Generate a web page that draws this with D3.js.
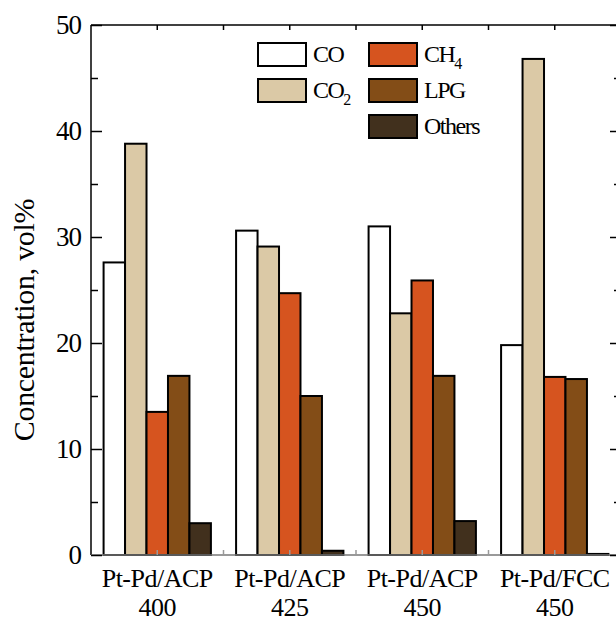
<!DOCTYPE html>
<html>
<head>
<meta charset="utf-8">
<script src="https://cdn.jsdelivr.net/npm/d3@7"></script>
<style>
  body { margin: 0; background: #fff; }
  text { font-family: "Liberation Serif", "Times New Roman", serif; fill: #000; }
</style>
</head>
<body>
<script>
// groups along the x axis (two label lines each)
const groups = ["Pt-Pd/ACP|400", "Pt-Pd/ACP|425", "Pt-Pd/ACP|450", "Pt-Pd/FCC|450"];
const series = ["CO", "CO2", "CH4", "LPG", "Others"];
const colors = ["#ffffff", "#dbc9a6", "#d6541f", "#834d17", "#41301d"];

// vol% per series, one value per group
const CO     = [27.6, 30.6, 31.0, 19.8];
const CO2    = [38.8, 29.1, 22.8, 46.8];
const CH4    = [13.5, 24.7, 25.9, 16.8];
const LPG    = [16.9, 15.0, 16.9, 16.6];
const Others = [3.0, 0.4, 3.2, 0.1];
const yTicks = [0, 10, 20, 30, 40, 50];

const values = [CO, CO2, CH4, LPG, Others];

const width = 616, height = 621;
const pLeft = 91, pRight = 621, pTop = 25, pBottom = 555;

const svg = d3.select("body").append("svg")
  .attr("width", width)
  .attr("height", height);

svg.append("rect").attr("width", width).attr("height", height).attr("fill", "#fff");

const x0 = d3.scaleBand()
  .domain(groups)
  .range([pLeft, pRight])
  .paddingInner(0.19)
  .paddingOuter(0.095);

const x1 = d3.scaleBand()
  .domain(series)
  .range([0, x0.bandwidth()]);

const y = d3.scaleLinear()
  .domain([0, 50])
  .range([pBottom, pTop]);

// bars
groups.forEach((g, gi) => {
  svg.append("g")
    .selectAll("rect")
    .data(series)
    .enter().append("rect")
    .attr("x", s => x0(g) + x1(s))
    .attr("y", (s, si) => y(values[si][gi]))
    .attr("width", x1.bandwidth())
    .attr("height", (s, si) => y(0) - y(values[si][gi]))
    .attr("fill", (s, si) => colors[si])
    .attr("stroke", "#000")
    .attr("stroke-width", 2);
});

// frame
svg.append("line").attr("x1", pLeft).attr("x2", pLeft).attr("y1", pTop).attr("y2", pBottom)
  .attr("stroke", "#000").attr("stroke-width", 1.5);
svg.append("line").attr("x1", pRight).attr("x2", pRight).attr("y1", pTop).attr("y2", pBottom)
  .attr("stroke", "#000").attr("stroke-width", 1.5);
svg.append("line").attr("x1", pLeft).attr("x2", pRight).attr("y1", pTop).attr("y2", pTop)
  .attr("stroke", "#000").attr("stroke-width", 1.5);
svg.append("line").attr("x1", pLeft).attr("x2", pRight).attr("y1", pBottom).attr("y2", pBottom)
  .attr("stroke", "#777").attr("stroke-width", 1.5);

// y axis: inward ticks on left and right
svg.append("g")
  .attr("transform", "translate(" + pLeft + ",0)")
  .call(d3.axisRight(y).tickValues(yTicks).tickSize(11).tickFormat(""));
svg.append("g")
  .attr("transform", "translate(" + pRight + ",0)")
  .call(d3.axisLeft(y).tickValues(yTicks).tickSize(11).tickFormat(""));
const minor = d3.range(5, 50, 10);
svg.append("g")
  .attr("transform", "translate(" + pLeft + ",0)")
  .call(d3.axisRight(y).tickValues(minor).tickSize(7).tickFormat(""));
svg.append("g")
  .attr("transform", "translate(" + pRight + ",0)")
  .call(d3.axisLeft(y).tickValues(minor).tickSize(7).tickFormat(""));
svg.selectAll(".domain").remove();
svg.selectAll(".tick line").attr("stroke", "#000").attr("stroke-width", 1.5);

// y tick labels
svg.append("g")
  .selectAll("text")
  .data(yTicks)
  .enter().append("text")
  .attr("x", pLeft - 10)
  .attr("y", d => y(d) + 9)
  .attr("text-anchor", "end")
  .style("font-size", "27px")
  .style("letter-spacing", "-1px")
  .text(d => d);

// x ticks at group centres and between groups
const xTickPos = [];
groups.forEach((g, i) => {
  const c = x0(g) + x0.bandwidth() / 2;
  xTickPos.push(c);
  if (i < groups.length - 1) xTickPos.push(c + x0.step() / 2);
});
svg.append("g").selectAll("line").data(xTickPos).enter().append("line")
  .attr("x1", d => d).attr("x2", d => d).attr("y1", pTop).attr("y2", pTop + 5)
  .attr("stroke", "#000").attr("stroke-width", 1.5);
svg.append("g").selectAll("line").data(xTickPos).enter().append("line")
  .attr("x1", d => d).attr("x2", d => d).attr("y1", pBottom).attr("y2", pBottom - 5)
  .attr("stroke", "#999").attr("stroke-width", 1.5);

// x labels
const xl = svg.append("g").selectAll("text").data(groups).enter().append("text")
  .attr("x", d => x0(d) + x0.bandwidth() / 2)
  .attr("text-anchor", "middle")
  .style("font-size", "26px")
  .style("letter-spacing", "-0.5px");
xl.append("tspan").attr("x", d => x0(d) + x0.bandwidth() / 2).attr("y", 587)
  .text(d => d.split("|")[0]);
xl.append("tspan").attr("x", d => x0(d) + x0.bandwidth() / 2).attr("y", 616)
  .text(d => d.split("|")[1]);

// y title
svg.append("text")
  .attr("transform", "translate(34,320) rotate(-90)")
  .attr("text-anchor", "middle")
  .style("font-size", "30px")
  .style("letter-spacing", "-0.3px")
  .text("Concentration, vol%");

// legend
const legendItems = [
  { i: 0, col: 0, row: 0, main: "CO", sub: "" },
  { i: 2, col: 1, row: 0, main: "CH", sub: "4" },
  { i: 1, col: 0, row: 1, main: "CO", sub: "2" },
  { i: 3, col: 1, row: 1, main: "LPG", sub: "" },
  { i: 4, col: 1, row: 2, main: "Others", sub: "" }
];
const lg = svg.append("g").selectAll("g").data(legendItems).enter().append("g")
  .attr("transform", d => "translate(" + (258 + d.col * 111) + "," + (43 + d.row * 36) + ")");
lg.append("rect")
  .attr("width", 48).attr("height", 23)
  .attr("fill", d => colors[d.i])
  .attr("stroke", "#000").attr("stroke-width", 2);
const lt = lg.append("text")
  .attr("x", 55).attr("y", 19)
  .style("font-size", "24px")
  .style("letter-spacing", "-1.5px");
lt.append("tspan").text(d => d.main);
lt.append("tspan").attr("dy", 7).style("font-size", "16px").text(d => d.sub);
</script>
</body>
</html>
